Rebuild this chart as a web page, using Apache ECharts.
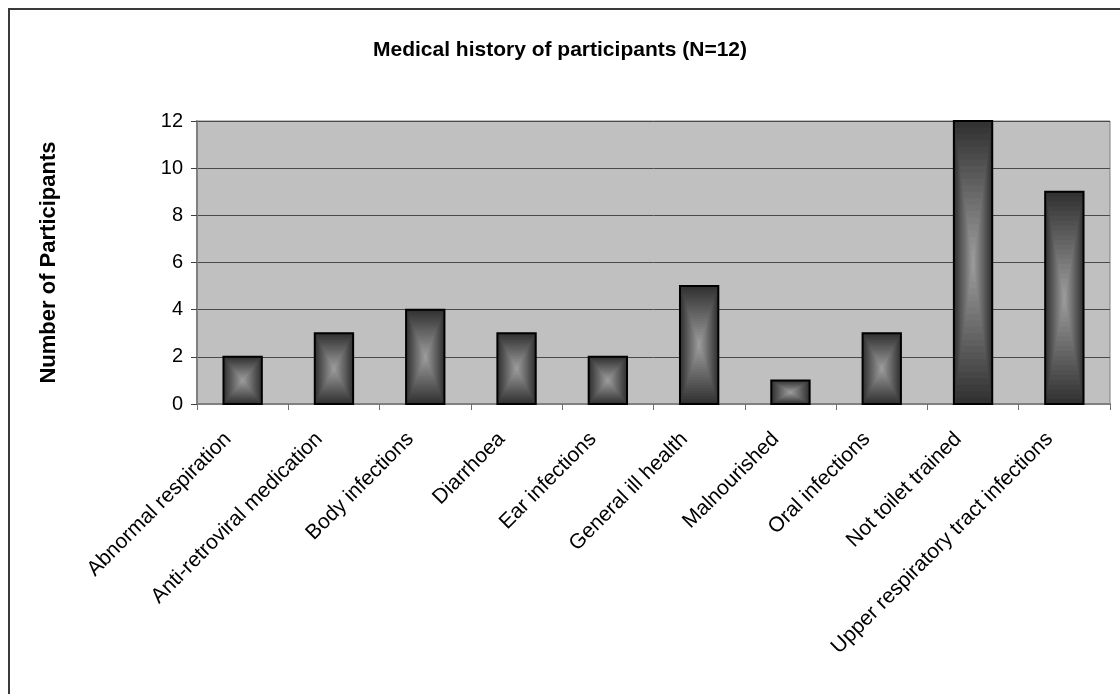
<!DOCTYPE html>
<html>
<head>
<meta charset="utf-8">
<script src="https://cdn.jsdelivr.net/npm/echarts@6/dist/echarts.min.js"></script>
<style>
  html, body { margin: 0; padding: 0; background: #ffffff; overflow: hidden; }
  #chart { position: absolute; left: 0; top: 0; width: 1120px; height: 694px; }
</style>
</head>
<body>
<div id="chart"></div>
<script>
// Medical history categories and participant counts
var categories = [
  'Abnormal respiration',
  'Anti-retroviral medication',
  'Body infections',
  'Diarrhoea',
  'Ear infections',
  'General ill health',
  'Malnourished',
  'Oral infections',
  'Not toilet trained',
  'Upper respiratory tract infections'
];
var participants = [2, 3, 4, 3, 2, 5, 1, 3, 12, 9];
var yTicks = [0, 2, 4, 6, 8, 10, 12];

var FONT = '"Liberation Sans", Arial, sans-serif';
var BAR_RATIO = 0.42;
var STEPS = 22;

// grey ramp from the bar edge (dark) to its centre (light)
function shade(t) {
  var c = Math.round(50 + (160 - 50) * t);
  return 'rgb(' + c + ',' + c + ',' + c + ')';
}

// each bar is filled with nested rectangles shrinking toward its centre
function renderBar(params, api) {
  var idx = api.value(0);
  var v = api.value(1);
  var base = api.coord([idx, 0]);
  var top = api.coord([idx, v]);
  var w = api.size([1, 0])[0] * BAR_RATIO;
  var x = base[0] - w / 2;
  var y = top[1];
  var h = base[1] - top[1];
  var children = [];
  for (var i = 0; i < STEPS; i++) {
    var t = i / STEPS;
    var ix = t * w / 2, iy = t * h / 2;
    children.push({
      type: 'rect',
      shape: { x: x + ix, y: y + iy, width: w - 2 * ix, height: h - 2 * iy },
      style: { fill: shade(t) }
    });
  }
  children.push({
    type: 'rect',
    shape: { x: x, y: y, width: w, height: h },
    style: { fill: null, stroke: '#000000', lineWidth: 2 }
  });
  return { type: 'group', children: children };
}

var chart = echarts.init(document.getElementById('chart'), null, { renderer: 'canvas' });
chart.setOption({
  backgroundColor: '#ffffff',
  animation: false,
  // chart-area outline (left and top edges)
  graphic: [{
    type: 'polyline',
    silent: true,
    shape: { points: [[9, 720], [9, 9], [1140, 9]] },
    style: { stroke: '#3a3a3a', lineWidth: 2, fill: null }
  }],
  title: {
    text: 'Medical history of participants (N=12)',
    left: 'center',
    top: 35,
    textStyle: { fontFamily: FONT, fontSize: 21, fontWeight: 'bold', color: '#000' }
  },
  grid: {
    left: 197, right: 10, top: 121, bottom: 290,
    show: true, backgroundColor: '#c0c0c0', borderColor: '#808080', borderWidth: 1
  },
  xAxis: {
    type: 'category',
    data: categories,
    boundaryGap: true,
    axisLine: { lineStyle: { color: '#808080', width: 2 } },
    axisTick: { show: true, length: 6, lineStyle: { color: '#707070', width: 1 } },
    axisLabel: {
      rotate: 45, margin: 17, interval: 0,
      padding: [0, 21, 0, 0],
      fontFamily: FONT, fontSize: 21, color: '#000'
    }
  },
  yAxis: {
    type: 'value',
    min: yTicks[0], max: yTicks[yTicks.length - 1], interval: 2,
    name: 'Number of Participants',
    nameLocation: 'middle',
    nameGap: 137,
    nameTextStyle: { fontFamily: FONT, fontSize: 22, fontWeight: 'bold', color: '#000' },
    axisLine: { show: true, lineStyle: { color: '#808080', width: 2 } },
    axisTick: { show: true, length: 6, lineStyle: { color: '#404040', width: 1 } },
    axisLabel: { margin: 14, fontFamily: FONT, fontSize: 20, color: '#000' },
    splitLine: { show: true, lineStyle: { color: '#4a4a4a', width: 1 } }
  },
  series: [{
    type: 'custom',
    renderItem: renderBar,
    encode: { x: 0, y: 1 },
    data: participants.map(function (v, i) { return [i, v]; })
  }]
});
</script>
</body>
</html>
